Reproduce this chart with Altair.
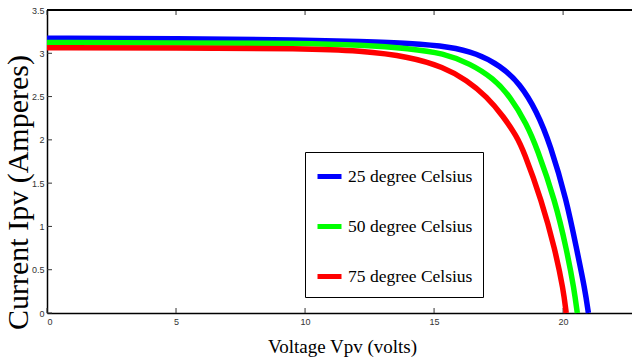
import altair as alt
import pandas as pd

# I-V characteristic of a PV module at three cell temperatures
series_names = ["25 degree Celsius", "50 degree Celsius", "75 degree Celsius"]
series_colors = ["#0000ff", "#00ff00", "#ff0000"]

v_25 = [0, 5, 10, 12.13, 14.07, 15.62, 16.65, 17.56, 18.33, 18.98, 19.5, 20.14, 20.53, 20.85, 20.98]
i_25 = [3.175, 3.17, 3.155, 3.135, 3.115, 3.075, 3.0, 2.86, 2.65, 2.33, 1.95, 1.30, 0.73, 0.27, 0]

v_50 = [0, 5, 10, 12.13, 14.07, 15.36, 16.4, 17.3, 17.95, 18.59, 18.98, 19.69, 20.14, 20.43, 20.55]
i_50 = [3.125, 3.12, 3.115, 3.095, 3.056, 3.0, 2.88, 2.71, 2.50, 2.18, 1.91, 1.30, 0.73, 0.27, 0]

v_75 = [0, 5, 10, 12.13, 14.07, 15.36, 16.27, 17.04, 17.69, 18.2, 18.46, 19.17, 19.69, 20.01, 20.12]
i_75 = [3.065, 3.06, 3.055, 3.03, 2.96, 2.84, 2.69, 2.50, 2.27, 2.04, 1.88, 1.30, 0.73, 0.27, 0]

x_ticks = [0, 5, 10, 15, 20]
y_ticks = [0, 0.5, 1, 1.5, 2, 2.5, 3, 3.5]
x_max = 22.67
y_max = 3.5

W, H = 585, 303
SERIF = "Liberation Serif"

rows = []
for name, vs, cs in zip(series_names, [v_25, v_50, v_75], [i_25, i_50, i_75]):
    for k, (v, c) in enumerate(zip(vs, cs)):
        rows.append({"series": name, "V": v, "I": c, "order": k})
curves = pd.DataFrame(rows)
xt = pd.DataFrame({"x": x_ticks})
yt = pd.DataFrame({"y": y_ticks})

x_scale = alt.Scale(domain=[0, x_max], nice=False, zero=False)
y_scale = alt.Scale(domain=[0, y_max], nice=False)

tick_label = dict(labelFont="Liberation Sans", labelFontSize=9, labelColor="#333333",
                  domainColor="black", domainWidth=1.5, ticks=False, grid=False)

lines = alt.Chart(curves).mark_line(strokeWidth=5.5, interpolate="basis").encode(
    x=alt.X("V:Q", scale=x_scale,
            axis=alt.Axis(values=x_ticks, title="Voltage Vpv (volts)", labelPadding=4,
                          titleFont=SERIF, titleFontSize=19,
                          titleFontWeight="normal", titleColor="black",
                          titleX=295, titleY=39, titleAlign="center",
                          titleBaseline="alphabetic", **tick_label)),
    y=alt.Y("I:Q", scale=y_scale,
            axis=alt.Axis(values=y_ticks, format="~g", title="Current Ipv (Amperes)",
                          labelPadding=3, titleFont=SERIF, titleFontSize=30,
                          titleFontWeight="normal", titleColor="black", titleAngle=270,
                          titleX=-20, titleY=182, titleAlign="center",
                          titleBaseline="alphabetic", **tick_label)),
    color=alt.Color("series:N",
                    scale=alt.Scale(domain=series_names, range=series_colors),
                    legend=alt.Legend(orient="none", legendX=258, legendY=142, title=None,
                                      symbolType="stroke", symbolStrokeWidth=5,
                                      symbolSize=576, labelFont=SERIF,
                                      labelFontSize=17.5, labelColor="black",
                                      strokeColor="black", fillColor="white",
                                      padding=10, rowPadding=25, labelOffset=4,
                                      labelLimit=300)),
    order="order:Q",
)

# inward-pointing ticks on the bottom and top edges
x_tick_bottom = alt.Chart(xt).mark_rule(color="#333333", strokeWidth=1).encode(
    x=alt.X("x:Q", scale=x_scale), y=alt.value(H), y2=alt.value(H - 5))
x_tick_top = alt.Chart(xt).mark_rule(color="#333333", strokeWidth=1).encode(
    x=alt.X("x:Q", scale=x_scale), y=alt.value(0), y2=alt.value(5))
# inward-pointing ticks on the left edge
y_tick_left = alt.Chart(yt).mark_rule(color="#333333", strokeWidth=1).encode(
    y=alt.Y("y:Q", scale=y_scale), x=alt.value(0), x2=alt.value(5))
# top frame line
top_frame = alt.Chart(xt).mark_rule(color="black", strokeWidth=1.5).encode(
    x=alt.value(0), x2=alt.value(W), y=alt.value(0))

chart = alt.layer(x_tick_bottom, x_tick_top, y_tick_left, top_frame, lines).properties(
    width=W, height=H,
    padding={"left": 47, "top": 10, "right": 0, "bottom": 48},
    autosize=alt.AutoSizeParams(type="none"),
    background="white",
).configure_view(stroke=None)

chart.save("out.html", embed_options={"renderer": "svg", "actions": False})
